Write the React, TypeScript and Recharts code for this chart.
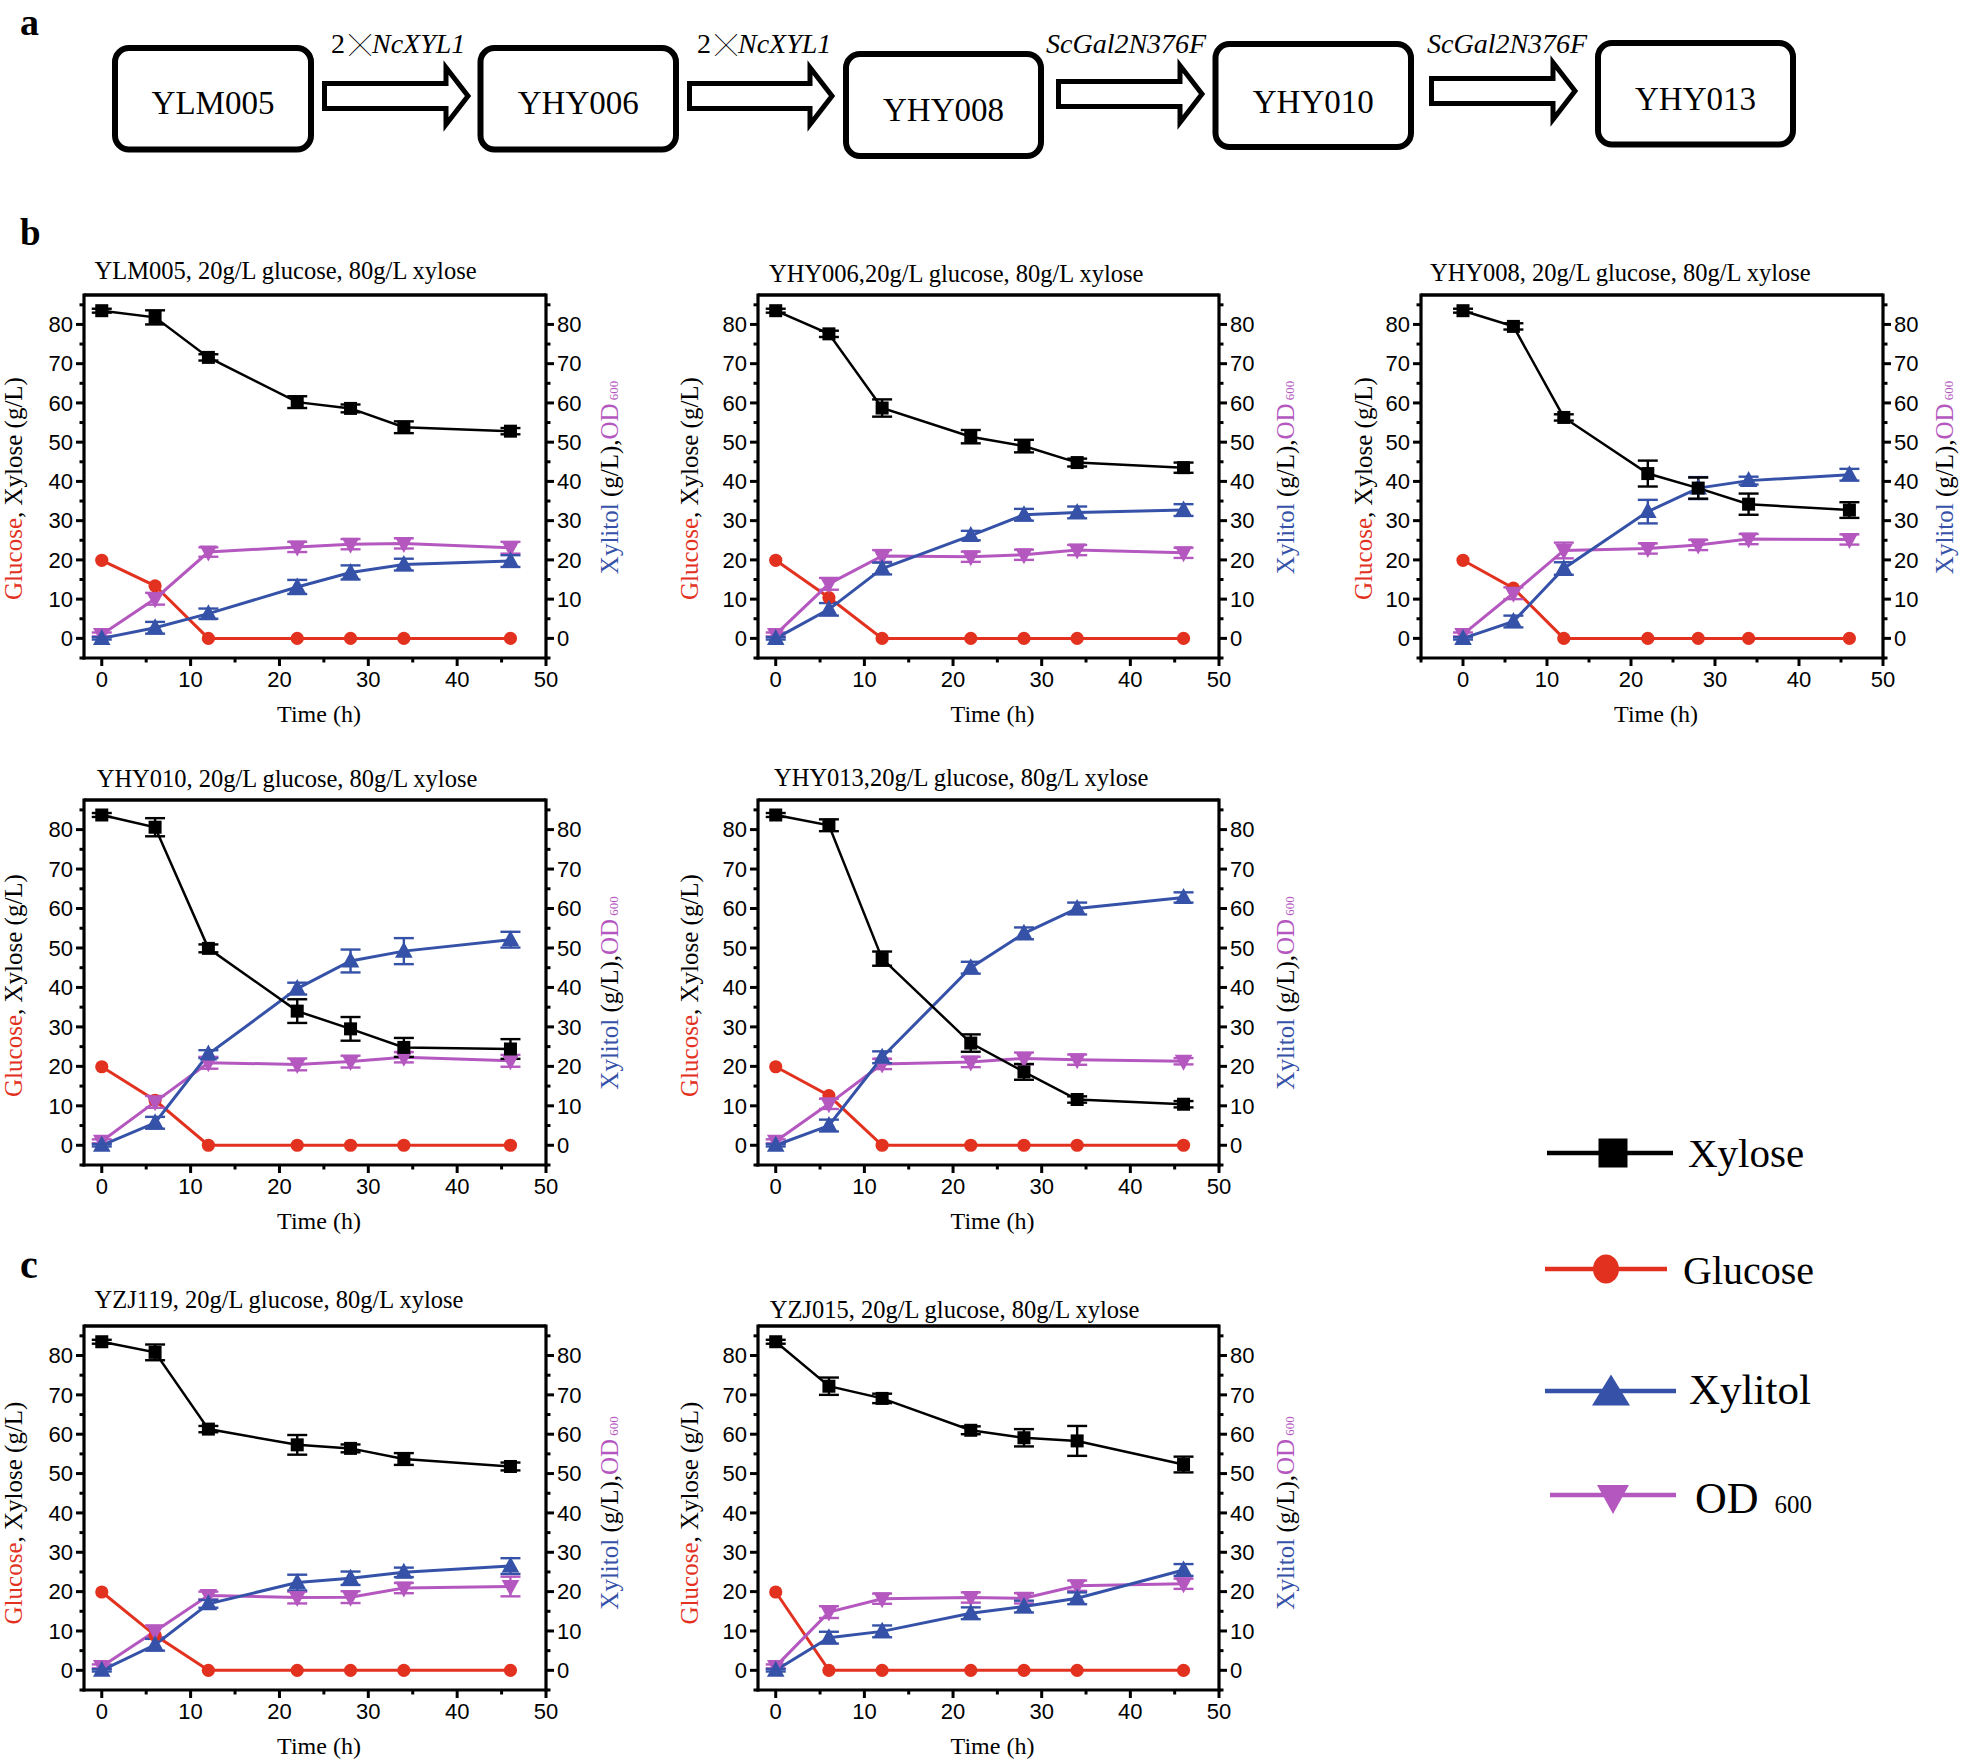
import React from 'react';
import { LineChart, Line, XAxis, YAxis, ErrorBar, ReferenceLine } from 'recharts';

// ---------- data ----------
const TIME_H = [0, 6, 12, 22, 28, 34, 46];

const YLM005_XYLOSE = [83.5, 81.8, 71.6, 60.2, 58.6, 53.8, 52.8];
const YLM005_XYLOSE_ERR = [0.5, 1.8, 0.8, 1.5, 1.0, 1.5, 0.8];
const YLM005_GLUCOSE = [19.9, 13.4, 0, 0, 0, 0, 0];
const YLM005_XYLITOL = [0, 2.7, 6.3, 13.1, 16.8, 18.8, 19.7];
const YLM005_XYLITOL_ERR = [0.3, 1.5, 1.3, 1.8, 1.8, 1.5, 1.5];
const YLM005_OD = [1.0, 10.1, 22.0, 23.3, 24.0, 24.2, 23.1];
const YLM005_OD_ERR = [0.5, 1.5, 1.2, 1.3, 1.3, 1.3, 1.5];

const YHY006_XYLOSE = [83.5, 77.6, 58.7, 51.4, 49.0, 44.8, 43.5];
const YHY006_XYLOSE_ERR = [0.5, 0.8, 2.2, 1.7, 1.6, 1.0, 1.3];
const YHY006_GLUCOSE = [19.9, 10.4, 0, 0, 0, 0, 0];
const YHY006_XYLITOL = [0, 7.4, 17.8, 26.2, 31.5, 32.1, 32.7];
const YHY006_XYLITOL_ERR = [0.3, 1.6, 1.5, 1.2, 1.5, 1.5, 1.5];
const YHY006_OD = [1.0, 13.9, 21.0, 20.8, 21.3, 22.5, 21.8];
const YHY006_OD_ERR = [0.5, 1.5, 1.5, 1.3, 1.3, 1.3, 1.3];

const YHY008_XYLOSE = [83.5, 79.5, 56.3, 42.0, 38.3, 34.2, 32.7];
const YHY008_XYLOSE_ERR = [0.5, 0.8, 0.8, 3.3, 2.7, 2.7, 2.0];
const YHY008_GLUCOSE = [19.9, 12.8, 0, 0, 0, 0, 0];
const YHY008_XYLITOL = [0, 4.3, 17.8, 32.3, 38.3, 40.2, 41.7];
const YHY008_XYLITOL_ERR = [0.3, 1.5, 1.6, 3.0, 2.8, 1.0, 1.5];
const YHY008_OD = [1.0, 11.5, 22.4, 22.9, 23.8, 25.3, 25.2];
const YHY008_OD_ERR = [0.5, 1.5, 2.0, 1.3, 1.3, 1.3, 1.3];

const YHY010_XYLOSE = [83.7, 80.6, 49.9, 34.0, 29.5, 24.8, 24.4];
const YHY010_XYLOSE_ERR = [0.5, 2.3, 1.0, 3.0, 3.0, 2.4, 2.5];
const YHY010_GLUCOSE = [19.9, 11.4, 0, 0, 0, 0, 0];
const YHY010_XYLITOL = [0, 5.7, 23.1, 39.7, 46.7, 49.2, 52.1];
const YHY010_XYLITOL_ERR = [0.3, 1.5, 1.0, 1.5, 2.9, 3.3, 2.0];
const YHY010_OD = [1.0, 11.0, 20.9, 20.5, 21.2, 22.3, 21.4];
const YHY010_OD_ERR = [0.5, 1.5, 1.5, 1.5, 1.5, 1.3, 1.5];

const YHY013_XYLOSE = [83.7, 81.1, 47.3, 25.9, 18.6, 11.6, 10.4];
const YHY013_XYLOSE_ERR = [0.5, 1.5, 1.8, 2.2, 2.0, 0.8, 0.8];
const YHY013_GLUCOSE = [19.9, 12.6, 0, 0, 0, 0, 0];
const YHY013_XYLITOL = [0, 5.0, 22.3, 45.0, 53.7, 60.0, 62.8];
const YHY013_XYLITOL_ERR = [0.3, 1.5, 1.5, 1.5, 1.5, 1.5, 1.3];
const YHY013_OD = [1.0, 10.5, 20.6, 21.1, 22.0, 21.7, 21.3];
const YHY013_OD_ERR = [0.5, 1.3, 1.3, 1.3, 1.5, 1.3, 0.8];

const YZJ119_XYLOSE = [83.5, 80.8, 61.3, 57.3, 56.4, 53.7, 51.8];
const YZJ119_XYLOSE_ERR = [0.5, 2.0, 0.8, 2.5, 1.0, 1.5, 1.0];
const YZJ119_GLUCOSE = [19.9, 8.9, 0, 0, 0, 0, 0];
const YZJ119_XYLITOL = [0, 6.5, 16.9, 22.3, 23.4, 24.9, 26.5];
const YZJ119_XYLITOL_ERR = [0.3, 1.5, 1.0, 2.0, 1.7, 1.2, 2.0];
const YZJ119_OD = [1.0, 9.9, 19.0, 18.5, 18.6, 20.9, 21.3];
const YZJ119_OD_ERR = [0.5, 1.5, 1.0, 1.5, 1.5, 1.3, 2.5];

const YZJ015_XYLOSE = [83.5, 72.2, 69.1, 61.0, 59.1, 58.3, 52.3];
const YZJ015_XYLOSE_ERR = [0.5, 2.2, 1.2, 1.0, 2.2, 3.8, 2.0];
const YZJ015_GLUCOSE = [19.9, 0, 0, 0, 0, 0, 0];
const YZJ015_XYLITOL = [0, 8.3, 9.9, 14.5, 16.2, 18.3, 25.5];
const YZJ015_XYLITOL_ERR = [0.3, 1.5, 1.5, 1.5, 1.5, 1.5, 1.5];
const YZJ015_OD = [1.0, 14.8, 18.2, 18.5, 18.3, 21.5, 22.0];
const YZJ015_OD_ERR = [0.5, 1.5, 1.3, 1.3, 1.3, 1.3, 1.3];

const Y_MAJOR = [0, 10, 20, 30, 40, 50, 60, 70, 80];
const Y_MINOR = [-5, 5, 15, 25, 35, 45, 55, 65, 75, 85];
const Y_MAX = 87.5;
const X_MAJOR = [0, 10, 20, 30, 40, 50];
const X_MINOR = [5, 15, 25, 35, 45];

const FLOW_STRAINS = ['YLM005', 'YHY006', 'YHY008', 'YHY010', 'YHY013'];
const FLOW_GENES = ['NcXYL1', 'NcXYL1', 'ScGal2N376F', 'ScGal2N376F'];
const FLOW_COPIES = ['2', '2', '', ''];

const LEGEND_NAMES = ['Xylose', 'Glucose', 'Xylitol', 'OD'];

// ---------- styles / layout ----------
const SERIF = '"Liberation Serif", "Times New Roman", serif';
const SANS = '"Liberation Sans", Arial, sans-serif';
const C_XYLOSE = '#000000';
const C_GLUCOSE = '#e2321f';
const C_XYLITOL = '#3552a8';
const C_OD = '#b458c0';

const AX_L = 100;
const AX_R = 100;
const PAD_T = 60;
const AX_B = 80;
const AXIS_LINE = { stroke: '#000', strokeWidth: 3.2, strokeLinecap: 'square' as const };

const LAYOUT = [
  { plotLeft: 84, plotTop: 295, plotW: 462, plotH: 363, xMin: -2, titleDx: 10.6, titleDy: -16, leftDx: -62, rightDx: 72, leftDy: 12, rightDy: 1 },
  { plotLeft: 758, plotTop: 295, plotW: 461, plotH: 363, xMin: -2, titleDx: 11, titleDy: -13, leftDx: -60, rightDx: 74.5, leftDy: 12, rightDy: 1 },
  { plotLeft: 1421, plotTop: 295, plotW: 462, plotH: 363, xMin: -5, titleDx: 9, titleDy: -14, leftDx: -49, rightDx: 69.5, leftDy: 12, rightDy: 1 },
  { plotLeft: 84, plotTop: 800, plotW: 462, plotH: 365, xMin: -2, titleDx: 12.7, titleDy: -12.7, leftDx: -62, rightDx: 72, leftDy: 3, rightDy: 10.5 },
  { plotLeft: 758, plotTop: 800, plotW: 461, plotH: 365, xMin: -2, titleDx: 16, titleDy: -13.7, leftDx: -60, rightDx: 74.5, leftDy: 3, rightDy: 10.5 },
  { plotLeft: 84, plotTop: 1326, plotW: 462, plotH: 364, xMin: -2, titleDx: 10.6, titleDy: -18, leftDx: -62, rightDx: 72, leftDy: 5, rightDy: 5 },
  { plotLeft: 758, plotTop: 1326, plotW: 461, plotH: 364, xMin: -2, titleDx: 11.7, titleDy: -8, leftDx: -60, rightDx: 74.5, leftDy: 5, rightDy: 5 },
];

const PANELS = [
  { title: 'YLM005, 20g/L glucose, 80g/L xylose', xylose: YLM005_XYLOSE, xyloseErr: YLM005_XYLOSE_ERR, glucose: YLM005_GLUCOSE, xylitol: YLM005_XYLITOL, xylitolErr: YLM005_XYLITOL_ERR, od: YLM005_OD, odErr: YLM005_OD_ERR },
  { title: 'YHY006,20g/L glucose, 80g/L xylose', xylose: YHY006_XYLOSE, xyloseErr: YHY006_XYLOSE_ERR, glucose: YHY006_GLUCOSE, xylitol: YHY006_XYLITOL, xylitolErr: YHY006_XYLITOL_ERR, od: YHY006_OD, odErr: YHY006_OD_ERR },
  { title: 'YHY008, 20g/L glucose, 80g/L xylose', xylose: YHY008_XYLOSE, xyloseErr: YHY008_XYLOSE_ERR, glucose: YHY008_GLUCOSE, xylitol: YHY008_XYLITOL, xylitolErr: YHY008_XYLITOL_ERR, od: YHY008_OD, odErr: YHY008_OD_ERR },
  { title: 'YHY010, 20g/L glucose, 80g/L xylose', xylose: YHY010_XYLOSE, xyloseErr: YHY010_XYLOSE_ERR, glucose: YHY010_GLUCOSE, xylitol: YHY010_XYLITOL, xylitolErr: YHY010_XYLITOL_ERR, od: YHY010_OD, odErr: YHY010_OD_ERR },
  { title: 'YHY013,20g/L glucose, 80g/L xylose', xylose: YHY013_XYLOSE, xyloseErr: YHY013_XYLOSE_ERR, glucose: YHY013_GLUCOSE, xylitol: YHY013_XYLITOL, xylitolErr: YHY013_XYLITOL_ERR, od: YHY013_OD, odErr: YHY013_OD_ERR },
  { title: 'YZJ119, 20g/L glucose, 80g/L xylose', xylose: YZJ119_XYLOSE, xyloseErr: YZJ119_XYLOSE_ERR, glucose: YZJ119_GLUCOSE, xylitol: YZJ119_XYLITOL, xylitolErr: YZJ119_XYLITOL_ERR, od: YZJ119_OD, odErr: YZJ119_OD_ERR },
  { title: 'YZJ015, 20g/L glucose, 80g/L xylose', xylose: YZJ015_XYLOSE, xyloseErr: YZJ015_XYLOSE_ERR, glucose: YZJ015_GLUCOSE, xylitol: YZJ015_XYLITOL, xylitolErr: YZJ015_XYLITOL_ERR, od: YZJ015_OD, odErr: YZJ015_OD_ERR },
];

// ---------- markers ----------
const squareDot = (p: any) => (
  <rect key={`s${p.index}`} x={p.cx - 6.5} y={p.cy - 6.5} width={13} height={13} fill={C_XYLOSE} />
);
const circleDot = (p: any) => (
  <circle key={`c${p.index}`} cx={p.cx} cy={p.cy} r={6.6} fill={C_GLUCOSE} />
);
const triUpDot = (p: any) => (
  <polygon key={`u${p.index}`} points={`${p.cx},${p.cy - 9.5} ${p.cx - 8.8},${p.cy + 6.5} ${p.cx + 8.8},${p.cy + 6.5}`} fill={C_XYLITOL} />
);
const triDownDot = (p: any) => (
  <polygon key={`d${p.index}`} points={`${p.cx - 8.8},${p.cy - 6.5} ${p.cx + 8.8},${p.cy - 6.5} ${p.cx},${p.cy + 9.5}`} fill={C_OD} />
);

// ---------- ticks ----------
const renderXTick = (p: any) => {
  const v = p.payload.value;
  const major = X_MAJOR.includes(v);
  return (
    <g>
      <line x1={p.x} x2={p.x} y1={p.y} y2={p.y + (major ? 8 : 4.5)} stroke="#000" strokeWidth={3} />
      {major && (
        <text x={p.x} y={p.y + 29} textAnchor="middle" fontFamily={SANS} fontSize={22} fill="#000">
          {v}
        </text>
      )}
    </g>
  );
};

const renderYTick = (p: any, side: 'left' | 'right') => {
  const v = p.payload.value;
  const major = Y_MAJOR.includes(v);
  const s = side === 'left' ? -1 : 1;
  const len = major ? 8 : 4.5;
  return (
    <g>
      <line x1={p.x} x2={p.x + s * len} y1={p.y} y2={p.y} stroke="#000" strokeWidth={3} />
      {major && (
        <text x={p.x + s * 11} y={p.y + 7.8} textAnchor={side === 'left' ? 'end' : 'start'} fontFamily={SANS} fontSize={22} fill="#000">
          {v}
        </text>
      )}
    </g>
  );
};

// ---------- labels ----------
const renderLeftLabel = (p: any, L: any, title: string) => {
  const vb = p.viewBox;
  const plotLeft = vb.x + vb.width;
  const x = plotLeft + L.leftDx;
  const y = vb.y + vb.height / 2 + L.leftDy;
  return (
    <g>
      <text x={x} y={y} transform={`rotate(-90 ${x} ${y})`} textAnchor="middle" fontFamily={SERIF} fontSize={25}>
        <tspan fill={C_GLUCOSE}>Glucose</tspan>
        <tspan fill="#000">, Xylose (g/L)</tspan>
      </text>
      <text x={plotLeft + L.titleDx} y={vb.y + L.titleDy} textAnchor="start" fontFamily={SERIF} fontSize={24.5} fill="#000">
        {title}
      </text>
    </g>
  );
};

const renderRightLabel = (p: any, L: any) => {
  const vb = p.viewBox;
  const x = vb.x + L.rightDx;
  const y = vb.y + vb.height / 2 + L.rightDy;
  return (
    <text x={x} y={y} transform={`rotate(-90 ${x} ${y})`} textAnchor="middle" fontFamily={SERIF} fontSize={25}>
      <tspan fill={C_XYLITOL}>Xylitol</tspan>
      <tspan fill="#000"> (g/L),</tspan>
      <tspan fill={C_OD}>OD</tspan>
      <tspan fill={C_OD} fontSize={13} dx={3}>600</tspan>
    </text>
  );
};

const renderTimeLabel = (p: any) => {
  const vb = p.viewBox;
  return (
    <text x={vb.x + vb.width / 2 + 4} y={vb.y + 64} textAnchor="middle" fontFamily={SERIF} fontSize={24} fill="#000">
      Time (h)
    </text>
  );
};

// ---------- chart panel ----------
function ChartPanel({ cfg, L }: { cfg: any; L: any }) {
  const data = TIME_H.map((t, i) => ({
    t,
    xylose: cfg.xylose[i],
    xyloseErr: cfg.xyloseErr[i],
    glucose: cfg.glucose[i],
    xylitol: cfg.xylitol[i],
    xylitolErr: cfg.xylitolErr[i],
    od: cfg.od[i],
    odErr: cfg.odErr[i],
  }));
  const W = L.plotW + AX_L + AX_R;
  const H = L.plotH + PAD_T + AX_B;
  const xTicks = [...X_MAJOR, ...X_MINOR, ...(L.xMin <= -5 ? [-5] : [])].sort((a, b) => a - b);
  const yTicks = [...Y_MAJOR, ...Y_MINOR].sort((a, b) => a - b);
  return (
    <div style={{ position: 'absolute', left: L.plotLeft - AX_L, top: L.plotTop - PAD_T, width: W, height: H }}>
      <LineChart width={W} height={H} data={data} margin={{ top: PAD_T, right: 0, bottom: 0, left: 0 }}>
        <XAxis
          xAxisId="bottom"
          dataKey="t"
          type="number"
          domain={[L.xMin, 50]}
          allowDataOverflow
          ticks={xTicks}
          interval={0}
          tickSize={0}
          tickMargin={0}
          tickLine={false}
          axisLine={AXIS_LINE}
          height={AX_B}
          tick={(p: any) => renderXTick(p)}
          label={(p: any) => renderTimeLabel(p)}
        />
        <YAxis
          yAxisId="left"
          type="number"
          domain={[-5, Y_MAX]}
          allowDataOverflow
          ticks={yTicks}
          interval={0}
          tickSize={0}
          tickMargin={0}
          tickLine={false}
          axisLine={AXIS_LINE}
          width={AX_L}
          tick={(p: any) => renderYTick(p, 'left')}
          label={(p: any) => renderLeftLabel(p, L, cfg.title)}
        />
        <YAxis
          yAxisId="right"
          orientation="right"
          type="number"
          domain={[-5, Y_MAX]}
          allowDataOverflow
          ticks={yTicks}
          interval={0}
          tickSize={0}
          tickMargin={0}
          tickLine={false}
          axisLine={AXIS_LINE}
          width={AX_R}
          tick={(p: any) => renderYTick(p, 'right')}
          label={(p: any) => renderRightLabel(p, L)}
        />
        <ReferenceLine xAxisId="bottom" yAxisId="left" y={Y_MAX} stroke="#000" strokeWidth={3.6} />
        <Line xAxisId="bottom" yAxisId="left" dataKey="glucose" stroke={C_GLUCOSE} strokeWidth={3} dot={circleDot} activeDot={false} isAnimationActive={false} />
        <Line xAxisId="bottom" yAxisId="right" dataKey="od" stroke={C_OD} strokeWidth={3} dot={triDownDot} activeDot={false} isAnimationActive={false}>
          <ErrorBar dataKey="odErr" width={10} strokeWidth={2.4} stroke={C_OD} direction="y" isAnimationActive={false} />
        </Line>
        <Line xAxisId="bottom" yAxisId="right" dataKey="xylitol" stroke={C_XYLITOL} strokeWidth={3} dot={triUpDot} activeDot={false} isAnimationActive={false}>
          <ErrorBar dataKey="xylitolErr" width={10} strokeWidth={2.4} stroke={C_XYLITOL} direction="y" isAnimationActive={false} />
        </Line>
        <Line xAxisId="bottom" yAxisId="left" dataKey="xylose" stroke={C_XYLOSE} strokeWidth={2.5} dot={squareDot} activeDot={false} isAnimationActive={false}>
          <ErrorBar dataKey="xyloseErr" width={10} strokeWidth={2.4} stroke={C_XYLOSE} direction="y" isAnimationActive={false} />
        </Line>
      </LineChart>
    </div>
  );
}

// ---------- panel a, letters, legend ----------
const BOX_POS = [
  { x: 112, y: 45, w: 202, h: 107.5, ty: 114 },
  { x: 477.5, y: 45, w: 201.5, h: 107.5, ty: 114 },
  { x: 843, y: 51, w: 201, h: 108, ty: 121 },
  { x: 1212.5, y: 41, w: 201.5, h: 109, ty: 112.5 },
  { x: 1595, y: 40, w: 201, h: 107.5, ty: 110 },
];
const ARROW_POS = [
  { x0: 322, tip: 470, cy: 96, lx: 331 },
  { x0: 687, tip: 834, cy: 96, lx: 697 },
  { x0: 1056, tip: 1204, cy: 94, lx: 1046 },
  { x0: 1429, tip: 1577, cy: 91, lx: 1427 },
];

const arrowPath = (a: any) => {
  const sh = 12.5;
  const hh = 28.5;
  const hb = a.tip - 24;
  const x0 = a.x0 + 2.5;
  return `M${x0},${a.cy - sh} L${hb},${a.cy - sh} L${hb},${a.cy - hh} L${a.tip - 2},${a.cy} L${hb},${a.cy + hh} L${hb},${a.cy + sh} L${x0},${a.cy + sh} Z`;
};

const LEGEND_POS = [
  { x1: 1547, x2: 1673, y: 1153, mx: 1613, tx: 1688, ty: 1167, fs: 41 },
  { x1: 1545, x2: 1667, y: 1269, mx: 1606, tx: 1683, ty: 1284, fs: 40 },
  { x1: 1545, x2: 1676, y: 1391, mx: 1611, tx: 1689, ty: 1404, fs: 43 },
  { x1: 1550, x2: 1676, y: 1495, mx: 1613, tx: 1695, ty: 1513, fs: 44 },
];
const LEGEND_COLORS = [C_XYLOSE, C_GLUCOSE, C_XYLITOL, C_OD];

function legendMarker(i: number, cx: number, cy: number) {
  if (i === 0) return <rect x={cx - 14.5} y={cy - 14.5} width={29} height={29} fill={C_XYLOSE} />;
  if (i === 1) return <ellipse cx={cx} cy={cy} rx={13} ry={14.5} fill={C_GLUCOSE} />;
  if (i === 2) return <polygon points={`${cx},${cy - 16.5} ${cx - 19},${cy + 14.5} ${cx + 19},${cy + 14.5}`} fill={C_XYLITOL} />;
  return <polygon points={`${cx - 16},${cy - 10} ${cx + 16},${cy - 10} ${cx},${cy + 19}`} fill={C_OD} />;
}

function Overlay() {
  return (
    <svg width={1961} height={1762} style={{ position: 'absolute', left: 0, top: 0 }}>
      <text x={20} y={35} fontFamily={SERIF} fontWeight="bold" fontSize={38}>a</text>
      <text x={20} y={245} fontFamily={SERIF} fontWeight="bold" fontSize={37}>b</text>
      <text x={20} y={1278} fontFamily={SERIF} fontWeight="bold" fontSize={40}>c</text>

      {FLOW_STRAINS.map((name, i) => {
        const b = BOX_POS[i];
        return (
          <g key={name}>
            <rect x={b.x + 3} y={b.y + 3} width={b.w - 6} height={b.h - 6} rx={14} ry={14} fill="#fff" stroke="#000" strokeWidth={6} />
            <text x={b.x + b.w / 2} y={b.ty} textAnchor="middle" fontFamily={SERIF} fontSize={33} fill="#000">{name}</text>
          </g>
        );
      })}
      {FLOW_GENES.map((gene, i) => {
        const a = ARROW_POS[i];
        const copies = FLOW_COPIES[i];
        return (
          <g key={`arrow${i}`}>
            <path d={arrowPath(a)} fill="#fff" stroke="#000" strokeWidth={5} strokeLinejoin="miter" />
            <text x={a.lx} y={53} fontFamily={SERIF} fontSize={28} fill="#000">
              {copies && <tspan>{copies}</tspan>}
              {copies && <tspan fontFamily='"Noto Sans CJK SC", "DejaVu Sans", sans-serif' fontSize={22} dx={4}>╳</tspan>}
              <tspan fontStyle="italic" dx={copies ? 1 : 0}>{gene}</tspan>
            </text>
          </g>
        );
      })}

      {LEGEND_NAMES.map((name, i) => {
        const l = LEGEND_POS[i];
        return (
          <g key={name}>
            <line x1={l.x1} x2={l.x2} y1={l.y} y2={l.y} stroke={LEGEND_COLORS[i]} strokeWidth={4.5} />
            {legendMarker(i, l.mx, l.y)}
            <text x={l.tx} y={l.ty} fontFamily={SERIF} fontSize={l.fs} fill="#000">
              {name}
              {i === 3 && <tspan fontSize={25} dx={16}>600</tspan>}
            </text>
          </g>
        );
      })}
    </svg>
  );
}

export default function App() {
  return (
    <div style={{ position: 'absolute', left: 0, top: 0, width: 1961, height: 1762, overflow: 'hidden', background: '#fff' }}>
      <Overlay />
      {PANELS.map((cfg, i) => (
        <ChartPanel key={cfg.title} cfg={cfg} L={LAYOUT[i]} />
      ))}
    </div>
  );
}
